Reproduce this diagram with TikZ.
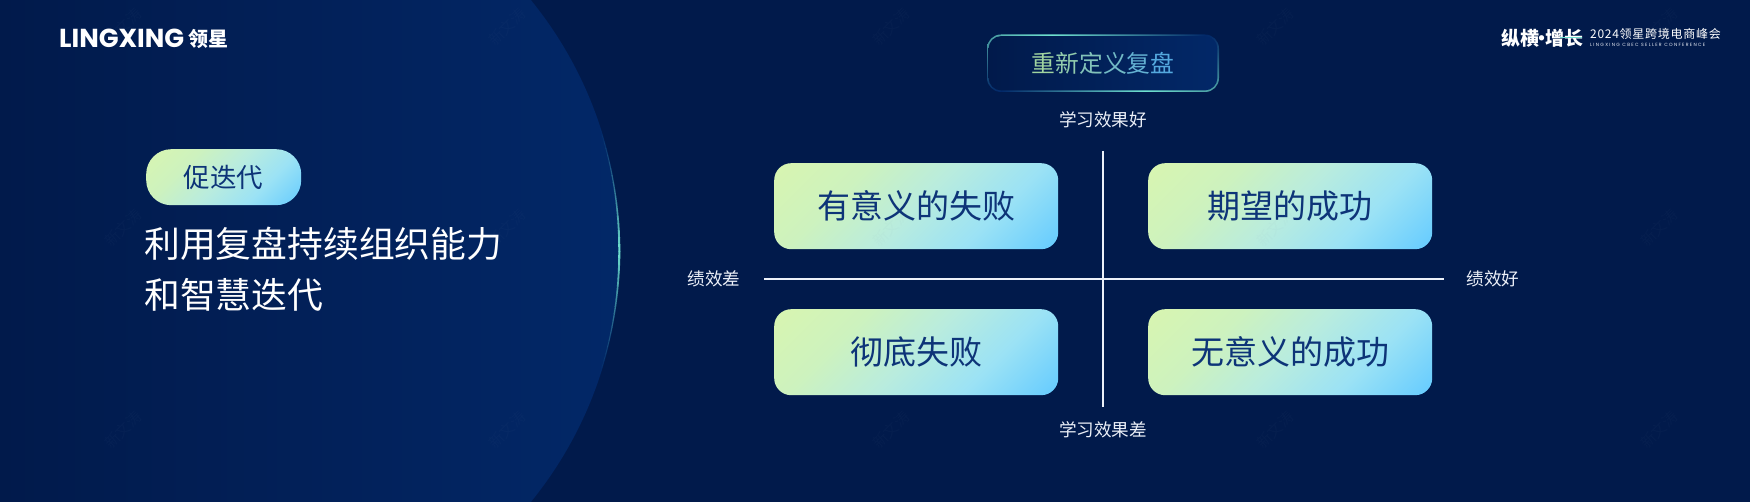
\documentclass[tikz,border=0pt]{standalone}
\usepackage{fontspec}
\setmainfont{Noto Sans CJK SC}
\newfontfamily\latinlogo{Poppins}
\newfontfamily\spacedcn[LetterSpace=6]{Noto Sans CJK SC}
\newfontfamily\tinyen[LetterSpace=28]{Poppins}
\usetikzlibrary{calc}
\definecolor{bgc}{RGB}{1,26,75}
\definecolor{circR}{RGB}{2,40,104}
\definecolor{circM}{RGB}{2,32,88}
\definecolor{gA}{RGB}{216,245,176}
\definecolor{gB}{RGB}{100,203,255}
\definecolor{gC}{RGB}{205,242,190}
\definecolor{gD}{RGB}{185,236,222}
\definecolor{gE}{RGB}{155,226,245}
\definecolor{ink}{RGB}{13,52,120}
\definecolor{rim}{RGB}{112,226,208}
\definecolor{wm}{RGB}{128,144,176}
\definecolor{tA}{RGB}{160,212,160}
\definecolor{tB}{RGB}{84,168,222}
\definecolor{labelc}{RGB}{236,240,248}
\pgfdeclarehorizontalshading{circshade}{100bp}{color(0bp)=(bgc); color(25bp)=(bgc); color(36bp)=(bgc); color(55bp)=(circM); color(75bp)=(circR); color(100bp)=(circR)}
\pgfdeclarehorizontalshading{titlefill}{100bp}{color(0bp)=(bgc); color(25bp)=(bgc); color(75bp)=(circR); color(100bp)=(circR)}
\pgfdeclarehorizontalshading{rimtop}{100bp}{color(0bp)=(rim!70!bgc); color(25bp)=(rim!70!bgc); color(39bp)=(rim); color(72bp)=(circR); color(100bp)=(circR)}
\pgfdeclarehorizontalshading{rimbot}{100bp}{color(0bp)=(circR); color(28bp)=(circR); color(59bp)=(rim); color(72bp)=(rim!70!bgc); color(100bp)=(rim!70!bgc)}
\pgfdeclareverticalshading{rimleft}{100bp}{color(0bp)=(circR); color(25bp)=(circR); color(75bp)=(rim!70!bgc); color(100bp)=(rim!70!bgc)}
\pgfdeclareverticalshading{rimright}{100bp}{color(0bp)=(rim!70!bgc); color(25bp)=(rim!70!bgc); color(75bp)=(circR); color(100bp)=(circR)}
\pgfdeclarehorizontalshading{diagshade}{100bp}{color(0bp)=(gA); color(37.5bp)=(gA); color(44bp)=(gC); color(50bp)=(gD); color(56bp)=(gE); color(62.5bp)=(gB); color(100bp)=(gB)}
\tikzset{
  x=1pt,y=-1pt,
  diagfill/.style={path picture={
    \shade[shading=diagshade,shading angle=-45,sharp corners]
      ($(path picture bounding box.center)+(-#1,-#1)$) rectangle ($(path picture bounding box.center)+(#1,#1)$);}},
  gradbox/.style={anchor=north west,inner sep=0pt,minimum width=284pt,minimum height=86pt,
    rounded corners=17pt,diagfill=261.6,
    text=ink,font=\fontsize{33}{40}\selectfont},
  pillbox/.style={anchor=north west,inner sep=0pt,minimum width=155pt,minimum height=56pt,
    rounded corners=25pt,diagfill=149.2,
    text=ink,font=\fontsize{26.5}{32}\selectfont},
  headline/.style={anchor=west,inner sep=0pt,text=white,font=\fontsize{35.8}{42}\selectfont},
  smalllabel/.style={inner sep=0pt,text=labelc,font=\fontsize{17.6}{21}\selectfont},
  axisline/.style={draw=labelc,line width=2pt},
  watermark/.style={rotate=45,text=wm,opacity=.04,font=\fontsize{15}{17}\selectfont,inner sep=0pt},
}
\begin{document}
\begin{tikzpicture}
\useasboundingbox (0,0) rectangle (1750,502);
\fill[bgc] (0,0) rectangle (1750,502);
% big circle
\begin{scope}
\clip (0,0) rectangle (1750,502);
\shade[shading=circshade] (222,251) circle[radius=398];
\foreach \a in {-18,-17,...,17}{
  \pgfmathsetmacro{\m}{max(0,100*(1-abs(\a+.5)/18))}
  \pgfmathsetmacro{\w}{.5+1.6*\m/100}
  \pgfmathsetmacro{\mm}{\m*\m/100*0.4+\m*0.6}
  \draw[draw=rim!\mm!circR,line width=\w pt] (222,251) ++({\a}:397.3) arc[start angle=\a,end angle=\a+1.1,radius=397.3];
}
\end{scope}
% logo
\node[anchor=west,inner sep=0pt,text=white,font=\latinlogo\bfseries\fontsize{26}{30}\selectfont] (logo) at (59,38.5) {LINGXING};
\node[anchor=west,inner sep=0pt,text=white,font=\bfseries\fontsize{20}{22}\selectfont] (logocn) at (188,38.5) {领星};
% top right mark
\node[anchor=west,inner sep=0pt,text=white,font=\bfseries\fontsize{19}{22}\selectfont] (mark) at (1501,38.5) {纵横\kern-6.5pt·\kern-6.5pt增长};
\coordinate (strokeA) at (1560,37.5);
\coordinate (strokeB) at (1582,37.5);
\draw[draw=rim,line width=1.2pt] (strokeA) -- (strokeB);
\node[anchor=west,inner sep=0pt,text=white,font=\spacedcn\fontsize{12}{14}\selectfont] (conf) at (1590,33.5) {2024领星跨境电商峰会};
\node[anchor=west,inner sep=0pt,text=labelc,font=\tinyen\fontsize{4.6}{6}\selectfont] (confen) at (1590,45) {LINGXING CBEC SELLER CONFERENCE};
% pill and heading
\node[pillbox] (pill) at (146,149) {促迭代};
\node[headline] (h1) at (144,244) {利用复盘持续组织能力};
\node[headline] (h2) at (144,295) {和智慧迭代};
% title box
\begin{scope}
\begin{scope}
\clip (1001,30) rectangle (1205,63);
\shade[shading=rimtop,rounded corners=14pt] (987,34.5) rectangle (1219,92);
\end{scope}
\begin{scope}
\clip (1001,63) rectangle (1205,96);
\shade[shading=rimbot,rounded corners=14pt] (987,34.5) rectangle (1219,92);
\end{scope}
\begin{scope}
\clip (980,30) rectangle (1001,96);
\shade[shading=rimleft,rounded corners=14pt] (987,34.5) rectangle (1219,92);
\end{scope}
\begin{scope}
\clip (1205,30) rectangle (1225,96);
\shade[shading=rimright,rounded corners=14pt] (987,34.5) rectangle (1219,92);
\end{scope}
\shade[shading=titlefill,rounded corners=12.5pt] (988.6,36.1) rectangle (1217.4,90.4);
\end{scope}
\node[inner sep=0pt,font=\fontsize{23.8}{28}\selectfont] (title) at (1103,63) {\textcolor{tA}{重}\textcolor{tB!20!tA}{新}\textcolor{tB!40!tA}{定}\textcolor{tB!60!tA}{义}\textcolor{tB!80!tA}{复}\textcolor{tB}{盘}};
% quadrant boxes
\node[gradbox] (q1) at (774,163) {有意义的失败};
\node[gradbox] (q2) at (1148,163) {期望的成功};
\node[gradbox] (q3) at (774,309) {彻底失败};
\node[gradbox] (q4) at (1148,309) {无意义的成功};
% axes
\coordinate (axL) at (764,279);
\coordinate (axR) at (1444,279);
\coordinate (axT) at (1103,151);
\coordinate (axB) at (1103,407);
\draw[axisline] (axL) -- (axR);
\draw[axisline] (axT) -- (axB);
\node[smalllabel] (top) at (1103,120) {学习效果好};
\node[smalllabel] (bot) at (1103,430) {学习效果差};
\node[smalllabel] (lft) at (714,278.5) {绩效差};
\node[smalllabel] (rgt) at (1493,278.5) {绩效好};
% watermarks
\foreach \i/\px in {0/123,1/507,2/891,3/1275,4/1659}{
  \foreach \j/\py in {0/27,1/228,2/430}{
    \node[watermark] (wm\i\j) at (\px,\py) {新文涛};
  }
}
\end{tikzpicture}
\end{document}
